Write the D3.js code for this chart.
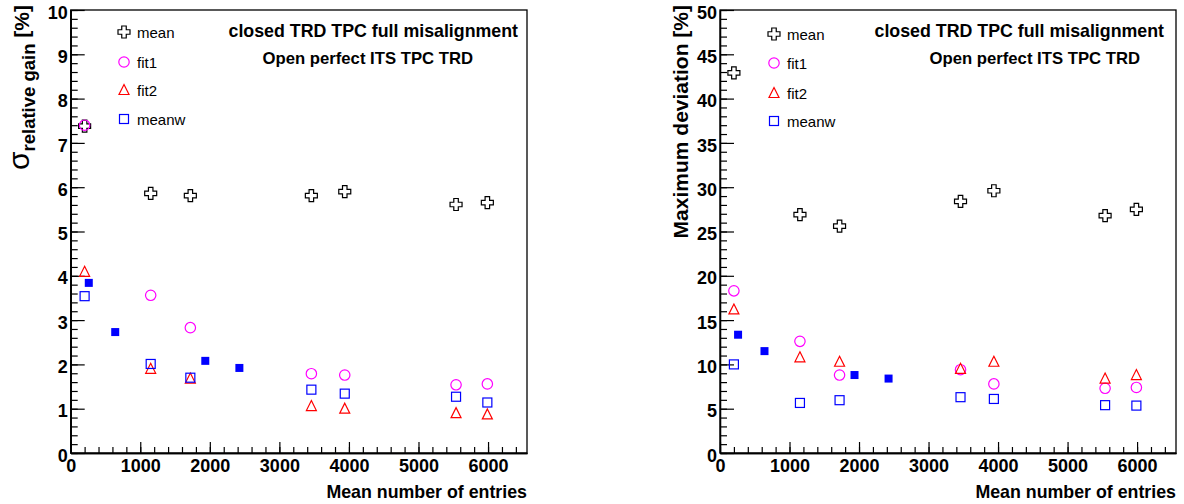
<!DOCTYPE html>
<html>
<head>
<meta charset="utf-8">
<script src="https://cdn.jsdelivr.net/npm/d3@7"></script>
<style>
  body { margin: 0; background: #fff; }
  svg { display: block; font-family: "Liberation Sans", Arial, sans-serif; }
  .tick text { font-weight: bold; font-size: 18px; fill: #000; }
</style>
</head>
<body>
<svg id="chart" width="1184" height="504"></svg>
<script>
// x positions (mean number of entries)
var entries = [200, 1150, 1720, 3460, 3940, 5540, 5990];
var entriesFilled = [260, 640, 1935, 2425];

// left panel: sigma relative gain [%]
var gainMean = [7.38, 5.86, 5.81, 5.81, 5.9, 5.61, 5.65];
var gainFit1 = [7.4, 3.56, 2.83, 1.79, 1.76, 1.54, 1.56];
var gainFit2 = [4.09, 1.9, 1.68, 1.06, 1.0, 0.9, 0.87];
var gainMeanw = [3.54, 2.01, 1.7, 1.43, 1.34, 1.27, 1.14];
var gainFilled = [3.84, 2.73, 2.08, 1.92];

// right panel: maximum deviation [%]
var devMean = [42.9, 26.9, 25.6, 28.4, 29.6, 26.8, 27.5];
var devFit1 = [18.3, 12.6, 8.8, 9.4, 7.8, 7.3, 7.4];
var devFit2 = [16.2, 10.8, 10.3, 9.5, 10.3, 8.4, 8.8];
var devMeanw = [10.0, 5.65, 5.96, 6.3, 6.1, 5.4, 5.35];
var devFilled = [13.35, 11.5, 8.8, 8.4];

var legendNames = ["mean", "fit1", "fit2", "meanw"];
var titleLines = ["closed TRD TPC full misalignment", "Open perfect ITS TPC TRD"];
var xTitle = "Mean number of entries";

var svg = d3.select("#chart");

// open cross (ROOT marker 28)
function crossPath(s, w) {
  var a = s / 2, b = w / 2;
  return "M" + (-b) + "," + (-a) + "H" + b + "V" + (-b) + "H" + a + "V" + b + "H" + b +
    "V" + a + "H" + (-b) + "V" + b + "H" + (-a) + "V" + (-b) + "H" + (-b) + "Z";
}

function drawMarker(g, kind, x, y) {
  if (kind == "mean") {
    g.append("path").attr("d", crossPath(12, 4.5)).attr("transform", "translate(" + x + "," + y + ")")
      .attr("fill", "none").attr("stroke", "#000").attr("stroke-width", 1.2);
  } else if (kind == "fit1") {
    g.append("circle").attr("cx", x).attr("cy", y).attr("r", 5.2)
      .attr("fill", "none").attr("stroke", "#ff00ff").attr("stroke-width", 1.2);
  } else if (kind == "fit2") {
    g.append("path").attr("d", "M0,-5.5L5,4.5L-5,4.5Z").attr("transform", "translate(" + x + "," + y + ")")
      .attr("fill", "none").attr("stroke", "#ff0000").attr("stroke-width", 1.2);
  } else if (kind == "meanw") {
    g.append("rect").attr("x", x - 4.5).attr("y", y - 4.5).attr("width", 9).attr("height", 9)
      .attr("fill", "none").attr("stroke", "#0000ff").attr("stroke-width", 1.2);
  } else {
    g.append("rect").attr("x", x - 4).attr("y", y - 4).attr("width", 8).attr("height", 8)
      .attr("fill", "#0000ff");
  }
}

function drawPanel(p) {
  var x = d3.scaleLinear().domain([0, 6560]).range([p.left, p.right]);
  var y = d3.scaleLinear().domain([0, p.ymax]).range([453, 10]);
  var g = svg.append("g");

  // frame
  g.append("rect").attr("x", p.left).attr("y", 10).attr("width", p.right - p.left).attr("height", 443)
    .attr("fill", "none").attr("stroke", "#000").attr("stroke-width", 1.3);

  // y axis, ticks inward
  var yAx = g.append("g").attr("transform", "translate(" + p.left + ",0)")
    .call(d3.axisLeft(y).ticks(10).tickSize(-14).tickSizeOuter(0).tickPadding(3));
  g.append("g").attr("transform", "translate(" + p.left + ",0)")
    .call(d3.axisLeft(y).ticks(50).tickSize(-7).tickSizeOuter(0).tickFormat(""));
  // x axis
  var xAx = g.append("g").attr("transform", "translate(0,453)")
    .call(d3.axisBottom(x).tickValues(d3.range(0, 6001, 1000)).tickSize(-11).tickSizeOuter(0).tickPadding(4).tickFormat(d3.format("d")));
  g.append("g").attr("transform", "translate(0,453)")
    .call(d3.axisBottom(x).tickValues(d3.range(0, 6561, 200)).tickSize(-6).tickSizeOuter(0).tickFormat(""));
  g.selectAll(".domain").attr("stroke", "#000").attr("stroke-width", 1.3);
  g.selectAll(".tick line").attr("stroke", "#000").attr("stroke-width", 1.2);
  yAx.selectAll("text").attr("dy", "0.45em");
  xAx.selectAll("text").attr("dy", "0.85em");

  // data
  var series = [["mean", p.mean], ["fit1", p.fit1], ["fit2", p.fit2], ["meanw", p.meanw]];
  var marks = g.append("g");
  series.forEach(function(s) {
    s[1].forEach(function(v, i) { drawMarker(marks, s[0], x(entries[i]), y(v)); });
  });
  p.filled.forEach(function(v, i) { drawMarker(marks, "filled", x(entriesFilled[i]), y(v)); });

  // legend
  legendNames.forEach(function(n, i) {
    var ly = p.legendY[i];
    drawMarker(g, n, p.legendX, ly);
    g.append("text").attr("x", p.legendX + 13).attr("y", ly + 5.5)
      .attr("font-size", 15).text(n);
  });

  // titles
  g.append("text").attr("x", p.title1X).attr("y", 37).attr("text-anchor", "end")
    .attr("font-size", 17.8).attr("font-weight", "bold").text(titleLines[0]);
  g.append("text").attr("x", p.title2X).attr("y", 64).attr("text-anchor", "end")
    .attr("font-size", 16.7).attr("font-weight", "bold").text(titleLines[1]);

  // x title
  g.append("text").attr("x", p.right).attr("y", 498).attr("text-anchor", "end")
    .attr("font-size", 17.8).attr("font-weight", "bold").text(xTitle);

  return g;
}

var left = drawPanel({left: 70.7, right: 527, ymax: 10, mean: gainMean, fit1: gainFit1, fit2: gainFit2,
  meanw: gainMeanw, filled: gainFilled, legendX: 124, legendY: [32, 62, 90, 119],
  title1X: 518, title2X: 473});
var right = drawPanel({left: 720, right: 1176, ymax: 50, mean: devMean, fit1: devFit1, fit2: devFit2,
  meanw: devMeanw, filled: devFilled, legendX: 774, legendY: [34, 63, 93, 121],
  title1X: 1164, title2X: 1140});

// y titles
var yt = left.append("text").attr("transform", "translate(29,5) rotate(-90)").attr("text-anchor", "end")
  .attr("font-weight", "bold");
yt.append("tspan").attr("font-size", 30).attr("font-weight", "normal").text("σ");
yt.append("tspan").attr("font-size", 18.5).attr("dy", 6).text("relative gain");
yt.append("tspan").attr("font-size", 21).attr("dy", -6).text(" [%]");

right.append("text").attr("transform", "translate(688,5) rotate(-90)").attr("text-anchor", "end")
  .attr("font-size", 21).attr("font-weight", "bold").text("Maximum deviation [%]");
</script>
</body>
</html>
